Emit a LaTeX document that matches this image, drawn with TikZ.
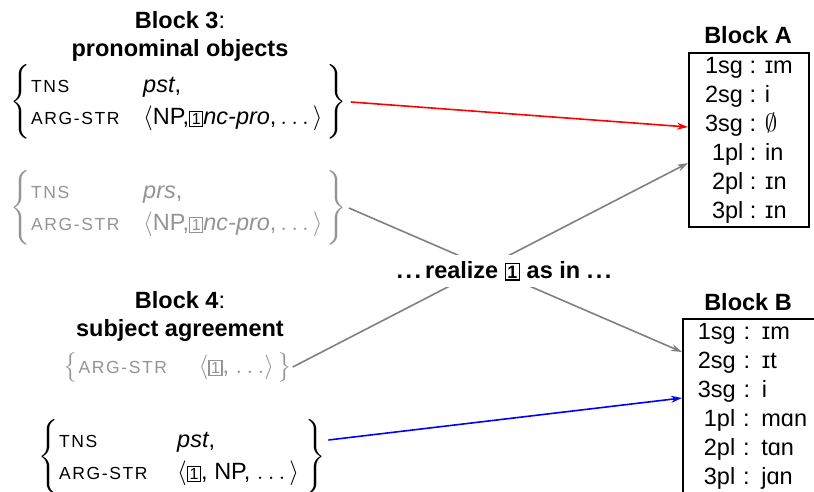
\documentclass[tikz,border=0pt]{standalone}
\usepackage{amsmath}
\usepackage{fontspec}
\setmainfont{Liberation Sans}
\usetikzlibrary{arrows.meta}

\definecolor{fadetxt}{gray}{0.58}
\definecolor{linegray}{gray}{0.5}

% feature names and the boxed tag
\newcommand{\feat}[1]{{\fontsize{17.5}{20}\selectfont\addfontfeature{LetterSpace=9}#1}}
\newcommand{\tagbox}[1][16]{{\setlength{\fboxsep}{1.3pt}\setlength{\fboxrule}{1.4pt}\fbox{\fontsize{#1}{#1}\selectfont 1}}}
\newcommand{\dotdot}{.\kern2.5pt.\kern2.5pt.}
\renewcommand{\arraystretch}{1.12}

\begin{document}
\begin{tikzpicture}[x=1pt, y=-1pt, font=\fontsize{23.5}{29}\selectfont,
    avm/.style={inner sep=0pt, anchor=west},
    head/.style={align=center, font=\fontsize{23.5}{28}\selectfont},
    blk/.style={draw, line width=1.8pt, align=left, inner ysep=4pt, anchor=north west},
    link/.style={line width=1.6pt, -{Stealth[length=11pt,width=7pt]}}]

    \useasboundingbox (0,0) rectangle (814,492);
    \clip (0,0) rectangle (814,492);

    % headings
    \node[head] (h3) at (180,36) {{\bfseries Block 3}:\\{\bfseries pronominal objects}};
    \node[head] (h4) at (180,316) {{\bfseries Block 4}:\\{\bfseries subject agreement}};
    \node[head] (hA) at (748,35) {\bfseries Block A};
    \node[head] (hB) at (748,302) {\bfseries Block B};

    % feature bundles
    \node[avm] (obj) at (10,102) {$\left\{\hspace{1pt}\begin{tabular}{@{}p{112pt}@{}l@{}}
        \feat{TNS} & \textit{pst}, \\
        \feat{ARG-STR} & $\langle$NP,\tagbox\textit{nc-pro},\,$\ldots$\,$\rangle$
        \end{tabular}\hspace{4pt}\right\}$};
    \node[avm, fadetxt] (objprs) at (10,208) {$\left\{\hspace{1pt}\begin{tabular}{@{}p{112pt}@{}l@{}}
        \feat{TNS} & \textit{prs}, \\
        \feat{ARG-STR} & $\langle$NP,\tagbox\textit{nc-pro},\,$\ldots$\,$\rangle$
        \end{tabular}\hspace{4pt}\right\}$};
    \node[avm, fadetxt] (subj) at (63,367) {$\left\{\hspace{1pt}\begin{tabular}{@{}p{120pt}@{}l@{}}
        \feat{ARG-STR} & $\langle$\tagbox, $\ldots\rangle$
        \end{tabular}\hspace{3pt}\right\}$};
    \node[avm] (subjpst) at (38,457) {$\left\{\hspace{1pt}\begin{tabular}{@{}p{118pt}@{}l@{}}
        \feat{TNS} & \textit{pst}, \\
        \feat{ARG-STR} & $\langle$\tagbox, NP, $\ldots$\,$\rangle$
        \end{tabular}\hspace{6pt}\right\}$};

    % exponent blocks
    \node[blk, minimum width=120pt, inner xsep=16pt] (blockA) at (688,52)
        {1sg : ɪm\\2sg : i\\3sg : $\emptyset$\\\hspace*{7pt}1pl : in\\\hspace*{7pt}2pl : ɪn\\\hspace*{7pt}3pl : ɪn};
    \node[blk, text width=140pt, inner xsep=15pt] (blockB) at (682,318)
        {1sg : ɪm\\2sg : ɪt\\3sg : i\\\hspace*{6pt}1pl : mɑn\\\hspace*{6pt}2pl : tɑn\\\hspace*{6pt}3pl : jɑn\\[6pt]\strut};

    % connectors
    \draw[link, red] ([xshift=4pt]obj.east) -- ([yshift=-75pt]blockA.north west);
    \draw[link, linegray] ([xshift=2pt]objprs.east) -- ([yshift=-34pt]blockB.north west);
    \draw[link, linegray] ([xshift=1pt]subj.east) -- ([yshift=-111pt]blockA.north west);
    \draw[link, blue] ([shift={(3pt,17pt)}]subjpst.east) -- ([yshift=-80pt]blockB.north west);

    % middle label on top of the crossing lines
    \node[fill=white, inner xsep=3pt, inner ysep=6pt, font=\fontsize{23.5}{28}\selectfont\bfseries] (realize) at (504,271)
        {\dotdot\,realize \tagbox[18]\ as in \dotdot};
\end{tikzpicture}
\end{document}
